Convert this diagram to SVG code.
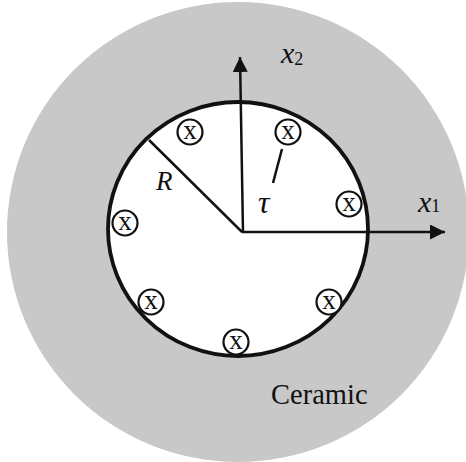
<svg xmlns="http://www.w3.org/2000/svg" width="466" height="462" viewBox="0 0 466 462">
<defs>
<style>
.lbl{font-family:"Liberation Serif","Times New Roman",serif;fill:#111}
.it{font-style:italic}
.mk circle{fill:#fff;stroke:#111;stroke-width:2.2}
.mk text{font-family:"Liberation Serif",serif;font-size:27px;text-anchor:middle;fill:#111}
.ax{stroke:#111;stroke-width:2.5;fill:none}
</style>
<marker id="arr" viewBox="0 0 10 10" refX="10" refY="5" markerWidth="6" markerHeight="6" markerUnits="strokeWidth" orient="auto">
<path d="M0,0 L10,5 L0,10 Z" fill="#111"/>
</marker>
<g id="mkdef" class="mk"><circle cx="0" cy="0" r="12.5"/><text x="0" y="6.5">x</text></g>
</defs>
<rect width="466" height="462" fill="#fff"/>
<g id="ceramic">
<ellipse cx="238" cy="232" rx="231" ry="230" fill="#c8c8c8"/>
<text class="lbl" x="271" y="404" font-size="28.5">Ceramic</text>
</g>
<g id="inclusion">
<ellipse cx="238" cy="229" rx="130" ry="127" fill="#fff" stroke="#111" stroke-width="3.8"/>
</g>
<g id="connectors">
<line class="ax" x1="243" y1="233" x2="240" y2="57" marker-end="url(#arr)"/>
<line class="ax" x1="242" y1="232" x2="445" y2="232" marker-end="url(#arr)"/>
<line class="ax" x1="242" y1="232" x2="149" y2="140" stroke-width="2.5"/>
<line class="ax" x1="273" y1="183" x2="282" y2="149" stroke-width="2"/>
</g>
<g id="marks">
<use href="#mkdef" x="190" y="132"/>
<use href="#mkdef" x="288" y="132"/>
<use href="#mkdef" x="349" y="204"/>
<use href="#mkdef" x="125" y="223"/>
<use href="#mkdef" x="151" y="302"/>
<use href="#mkdef" x="329" y="302"/>
<use href="#mkdef" x="236" y="342"/>
</g>
<g id="labels">
<text class="lbl it" x="156" y="190" font-size="27">R</text>
<text class="lbl it" x="258" y="213" font-size="32">τ</text>
<text class="lbl" x="281" y="63" font-size="30"><tspan class="it">x</tspan><tspan font-size="18" dy="2">2</tspan></text>
<text class="lbl" x="418" y="212" font-size="30"><tspan class="it">x</tspan><tspan font-size="18" dy="0">1</tspan></text>
</g>
</svg>
